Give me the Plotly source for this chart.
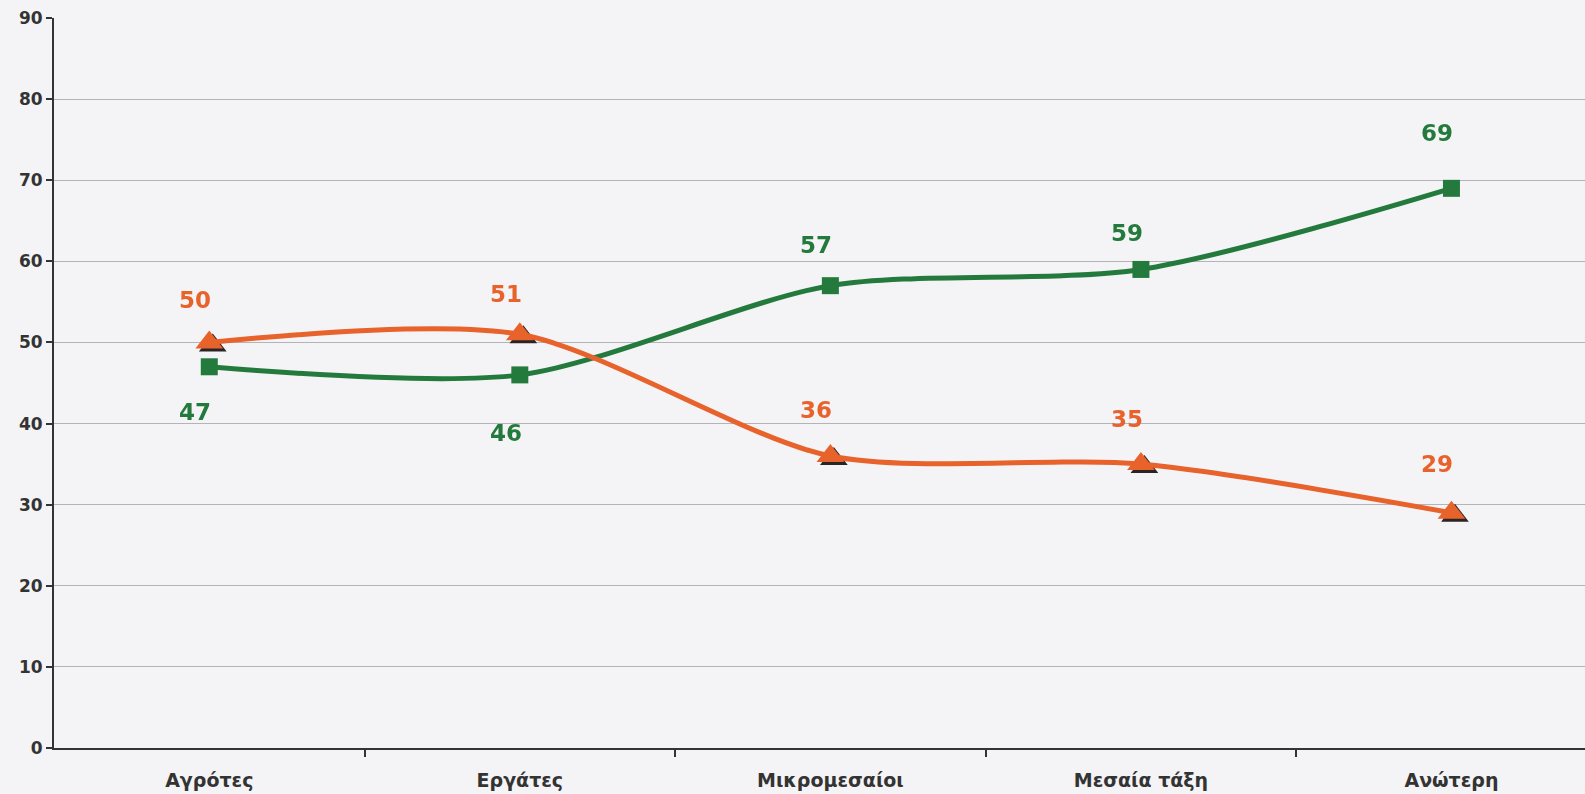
import plotly.graph_objects as go

categories = ["Αγρότες", "Εργάτες", "Μικρομεσαίοι", "Μεσαία τάξη", "Ανώτερη"]
green_values = [47, 46, 57, 59, 69]
orange_values = [50, 51, 36, 35, 29]

# label offsets (pixels, style only)
green_label_shift = [-45, -58, 41, 36, 55]
orange_label_shift = [42, 40, 46, 45, 49]

GREEN = "#247a3d"
ORANGE = "#e8622c"
SHADOW = "#2a2424"
BG = "#f4f4f6"

xi = list(range(len(categories)))

fig = go.Figure()

# invisible anchor trace on the main axes so they get drawn
fig.add_trace(go.Scatter(
    x=xi, y=green_values, mode="markers", opacity=0,
    hoverinfo="skip", showlegend=False))

# shadow for triangles (drawn on offset overlay axes, below the main series)
fig.add_trace(go.Scatter(
    x=xi, y=orange_values, mode="markers",
    marker=dict(symbol="triangle-up", size=24, color=SHADOW),
    xaxis="x2", yaxis="y2", hoverinfo="skip", showlegend=False))

fig.add_trace(go.Scatter(
    x=xi, y=green_values, mode="lines+markers",
    line=dict(color=GREEN, width=5, shape="spline", smoothing=0.8),
    marker=dict(symbol="square", size=17, color=GREEN),
    xaxis="x3", yaxis="y3", showlegend=False))

fig.add_trace(go.Scatter(
    x=xi, y=orange_values, mode="lines+markers",
    line=dict(color=ORANGE, width=5, shape="spline", smoothing=0.8),
    marker=dict(symbol="triangle-up", size=24, color=ORANGE),
    xaxis="x3", yaxis="y3", showlegend=False))

annotations = []
for i, v in enumerate(green_values):
    annotations.append(dict(
        x=i - 0.045, y=v, text=f"<b>{v}</b>", showarrow=False,
        yshift=green_label_shift[i],
        font=dict(family="DejaVu Sans", size=23, color=GREEN)))
for i, v in enumerate(orange_values):
    annotations.append(dict(
        x=i - 0.045, y=v, text=f"<b>{v}</b>", showarrow=False,
        yshift=orange_label_shift[i],
        font=dict(family="DejaVu Sans", size=23, color=ORANGE)))

xr = [-0.5, 4.43]
yr = [0, 90]
dx = 3.5 * (xr[1] - xr[0]) / 1531
dy = 3 * 90 / 730

fig.update_layout(
    width=1585, height=794,
    margin=dict(l=54, r=0, t=18, b=46),
    paper_bgcolor=BG,
    plot_bgcolor=BG,
    annotations=annotations,
    xaxis=dict(
        range=xr, tickmode="array", tickvals=xi, ticktext=[f"<b>{c}</b>" for c in categories],
        showgrid=False, zeroline=False, showline=True, linecolor="#333333", linewidth=2,
        ticks="", ticklabelstandoff=14,
        tickfont=dict(family="DejaVu Sans", size=19, color="#333333"),
        minor=dict(tickmode="array", tickvals=[0.5, 1.5, 2.5, 3.5], ticks="outside",
                   ticklen=7, tickcolor="#333333", tickwidth=2, showgrid=False),
    ),
    yaxis=dict(
        range=yr, tickmode="array", tickvals=list(range(0, 91, 10)),
        ticktext=[f"<b>{t}</b>" for t in range(0, 91, 10)],
        showgrid=True, gridcolor="#b4b4b8", gridwidth=1, zeroline=False,
        showline=True, linecolor="#333333", linewidth=2,
        ticks="outside", ticklen=6, tickcolor="#333333", tickwidth=2,
        tickfont=dict(family="DejaVu Sans", size=17, color="#333333"),
    ),
    xaxis2=dict(range=[xr[0] - dx, xr[1] - dx], overlaying="x", visible=False),
    yaxis2=dict(range=[yr[0] + dy, yr[1] + dy], overlaying="y", visible=False),
    xaxis3=dict(range=xr, overlaying="x", visible=False),
    yaxis3=dict(range=yr, overlaying="y", visible=False),
)

fig.write_html(
    "out.html",
    config={"displayModeBar": False},
    post_script="document.body.style.margin='0';document.body.style.background='%s';" % BG,
)
